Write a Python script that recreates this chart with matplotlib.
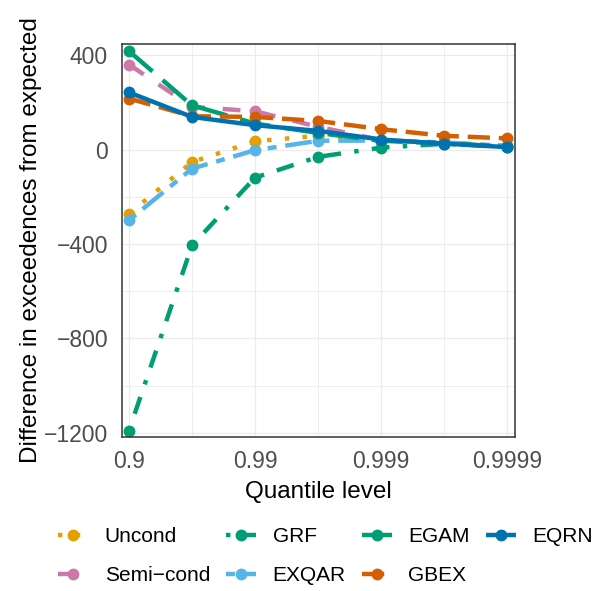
import numpy as np
import matplotlib
matplotlib.use("Agg")
from matplotlib import pyplot as plt
from matplotlib.ticker import FixedLocator

plt.rcParams['font.family'] = ['Liberation Sans', 'DejaVu Sans']

# quantile levels on the -log10(1-p) scale
levels = [0.9, 0.968377, 0.99, 0.996838, 0.999, 0.999684, 0.9999]
tick_levels = [0.9, 0.99, 0.999, 0.9999]
tick_labels = ['0.9', '0.99', '0.999', '0.9999']

methods = ['Uncond', 'Semi\u2212cond', 'GRF', 'EXQAR', 'EGAM', 'GBEX', 'EQRN']

uncond = [-272, -53, 35, 58, 40, 28, 15]
semicond = [360, 181, 162, 96, 40, 25, 12]
grf = [-1191, -406, -119, -31, 8, 24, 14]
exqar = [-300, -81, -3, 37, 38, 30, 15]
egam = [417, 187, 110, 70, 37, 26, 12]
gbex = [216, 141, 138, 121, 86, 58, 47]
eqrn = [242, 138, 103, 79, 42, 25, 10]

series = [uncond, semicond, grf, exqar, egam, gbex, eqrn]
colours = ['#E69F00', '#CC79A7', '#009E73', '#56B4E9', '#009E73', '#D55E00', '#0072B2']
dashes = [(1, 3), (4, 4), (1, 3, 4, 3), (2, 2, 6, 2), (7, 3), (5, 2), None]

xs = -np.log10(1 - np.array(levels))

fig = plt.figure(figsize=(5.97, 5.91), dpi=100)
ax = fig.add_axes([122/597, 1 - 437/591, 393/597, 393/591])

handles = []
for name, ys, col, ds in zip(methods, series, colours, dashes):
    line, = ax.plot(xs, ys, color=col, lw=3.2, marker='o', ms=7.5,
                    solid_capstyle='butt', dash_capstyle='butt', label=name)
    if ds is not None:
        line.set_dashes(ds)
    handles.append(line)

tick_pos = -np.log10(1 - np.array(tick_levels))
ax.set_xticks(tick_pos)
ax.set_xticklabels(tick_labels)
ax.xaxis.set_minor_locator(FixedLocator([1.5, 2.5, 3.5]))
ax.set_yticks([-1200, -800, -400, 0, 400])
ax.set_yticklabels(['\u22121200', '\u2212800', '\u2212400', '0', '400'])
ax.yaxis.set_minor_locator(FixedLocator([-1000, -600, -200, 200]))
ax.set_xlim(0.945, 4.06)
ax.set_ylim(-1218, 447)

ax.grid(which='major', color='#EBEBEB', lw=0.9)
ax.grid(which='minor', color='#EBEBEB', lw=0.6)
ax.set_axisbelow(True)
ax.tick_params(which='both', length=0, labelsize=16.5, labelcolor='#4D4D4D')
ax.tick_params(axis='y', pad=10)
ax.tick_params(axis='x', pad=9)
for s in ax.spines.values():
    s.set_color('#333333')
    s.set_linewidth(1.1)

ax.set_xlabel('Quantile level', fontsize=17.5, labelpad=6)
ax.set_ylabel('Difference in exceedences from expected', fontsize=17.5, labelpad=1)

fig.legend(handles=handles, loc='upper left', bbox_to_anchor=(58/597, 1 - 527/591),
           ncol=4, frameon=False, fontsize=15, handlelength=1.45,
           handletextpad=0.8, columnspacing=0.75, labelspacing=0.95,
           borderpad=0, borderaxespad=0, numpoints=1)

fig.savefig('out.png', dpi=100)
